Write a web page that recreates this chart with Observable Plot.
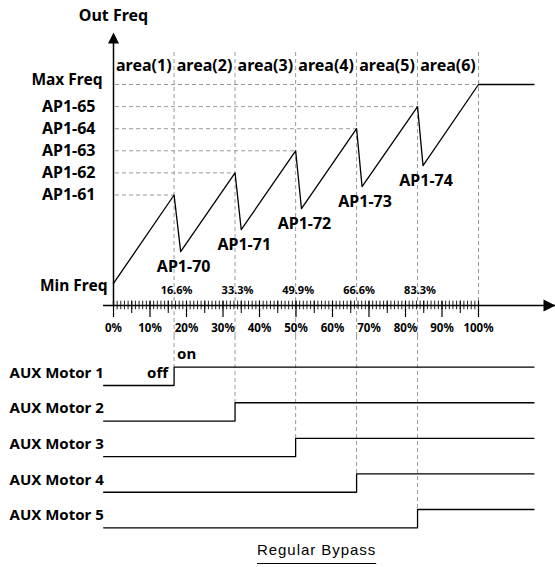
<!DOCTYPE html>
<html><head><meta charset="utf-8">
<script src="https://cdn.jsdelivr.net/npm/d3@7"></script>
<script src="https://cdn.jsdelivr.net/npm/@observablehq/plot@0.6"></script>
<style>
html,body{margin:0;padding:0;background:#fff;}
#wrap{position:relative;width:555px;height:567px;overflow:hidden;background:#fff;}
#wrap svg{display:block;background:#fff;overflow:visible;}
#caption{position:absolute;left:257px;top:541px;font-family:"Liberation Sans",Arial,sans-serif;font-size:15px;letter-spacing:0.95px;text-decoration:underline;text-underline-offset:8px;text-decoration-thickness:1px;color:#000;white-space:nowrap;line-height:17px;}
</style></head><body>
<div id="wrap"></div>
<script>
// ---- data ----
const levelLabels = ["Min Freq","AP1-61","AP1-62","AP1-63","AP1-64","AP1-65","Max Freq"];
const levelValues = [0, 4, 5, 6, 7, 8, 9];
const stagePct = [16.6, 33.3, 49.9, 66.6, 83.3];
const stageLabels = ["16.6%","33.3%","49.9%","66.6%","83.3%"];
const peakLevels = [4, 5, 6, 7, 8];
const dropPct = [18.4, 35.0, 51.5, 68.1, 84.8];
const dropLevels = [1.44, 2.43, 3.38, 4.38, 5.33];
const dropLabels = ["AP1-70","AP1-71","AP1-72","AP1-73","AP1-74"];
const areaLabels = ["area(1)","area(2)","area(3)","area(4)","area(5)","area(6)"];
const xTicks = [0,10,20,30,40,50,60,70,80,90,100];
const xTickLabels = ["0%","10%","20%","30%","40%","50%","60%","70%","80%","90%","100%"];
const motors = ["AUX Motor 1","AUX Motor 2","AUX Motor 3","AUX Motor 4","AUX Motor 5"];
const motorOnPct = [16.6, 33.3, 49.9, 66.6, 83.3];
const runStart = -2.7, runEnd = 115.2;
const maxLevel = 9, axisLevel = -1;

// ---- derived series ----
const saw = [{x: 0, y: 0}];
stagePct.forEach((p, i) => { saw.push({x: p, y: peakLevels[i]}); saw.push({x: dropPct[i], y: dropLevels[i]}); });
saw.push({x: 100, y: maxLevel}, {x: runEnd, y: maxLevel});
const guides = levelValues.slice(1).map((v, i) => ({level: v, x2: i < stagePct.length ? stagePct[i] : 100}));
const bounds = [0, ...stagePct, 100];
const areas = areaLabels.map((t, i) => ({t, x: (bounds[i] + bounds[i+1]) / 2}));
const drops = dropLabels.map((t, i) => ({t, x: dropPct[i], y: dropLevels[i]}));
const motorSeries = motors.flatMap((m, i) => [
  {motor: m, row: i, x: runStart, state: 0},
  {motor: m, row: i, x: motorOnPct[i], state: 1},
  {motor: m, row: i, x: runEnd, state: 1}
]);

// ---- layout / styles ----
const split = 336;            // height of the upper svg
const F = {fontFamily: "'Noto Sans', sans-serif", fontWeight: "bold", fill: "black"};
const dash = {stroke: "#9a9a9a", strokeWidth: 1, strokeDasharray: "4,3"};
const arrowUp = {draw(ctx) { ctx.moveTo(0, 0); ctx.lineTo(5.5, 11); ctx.lineTo(-5.5, 11); ctx.closePath(); }};
const arrowRight = {draw(ctx) { ctx.moveTo(0, 0); ctx.lineTo(-12, -6); ctx.lineTo(-12, 6); ctx.closePath(); }};
const X = {domain: [0, 100], range: [113, 478], axis: null};

const topPlot = Plot.plot({
  width: 555, height: split, marginLeft: 103, marginRight: 0, marginTop: 52, marginBottom: split - 305,
  style: {background: "white"},
  x: X,
  y: {domain: [axisLevel, maxLevel], range: [305, 84], axis: null},
  marks: [
    Plot.ruleX(stagePct, {x: d => d, insetBottom: -(split - 305), ...dash}),
    Plot.ruleX([100], {x: d => d, ...dash}),
    Plot.ruleY(guides, {y: "level", x2: "x2", insetLeft: 2, ...dash}),
    Plot.ruleY([axisLevel], {y: d => d, stroke: "black", strokeWidth: 1.5}),
    Plot.ruleX([0], {x: d => d, y1: maxLevel, y2: axisLevel, insetTop: -42, stroke: "black", strokeWidth: 1.5}),
    Plot.ruleX(d3.range(0, 101), {x: d => d, y1: axisLevel, y2: axisLevel, insetTop: -4.3, insetBottom: -4.3, stroke: "black", strokeWidth: 0.9}),
    Plot.ruleX(d3.range(5, 100, 10), {x: d => d, y1: axisLevel, y2: axisLevel, insetTop: -4.3, insetBottom: -8, stroke: "black", strokeWidth: 1}),
    Plot.ruleX(xTicks, {x: d => d, y1: axisLevel, y2: axisLevel, insetTop: -4.3, insetBottom: -12, stroke: "black", strokeWidth: 1.2}),
    Plot.dot([0], {x: d => d, frameAnchor: "top", dy: -20, symbol: arrowUp, fill: "black", stroke: "none"}),
    Plot.dot([axisLevel], {y: d => d, frameAnchor: "right", symbol: arrowRight, fill: "black", stroke: "none"}),
    Plot.line(saw, {x: "x", y: "y", stroke: "black", strokeWidth: 1.3}),
    Plot.text(["Out Freq"], {x: () => 0, frameAnchor: "top", lineAnchor: "middle", dy: -37, text: d => d, fontSize: 16, ...F}),
    Plot.text(areas, {x: "x", frameAnchor: "top", lineAnchor: "middle", dy: 13, text: "t", fontSize: 16, ...F}),
    Plot.text(levelLabels.slice(1, 6), {y: (d, i) => levelValues[i+1], frameAnchor: "left", dx: -8, textAnchor: "end", text: d => d, fontSize: 16, ...F}),
    Plot.text([levelLabels[6]], {y: () => levelValues[6], frameAnchor: "left", dx: -1, dy: -4, textAnchor: "end", text: d => d, fontSize: 15.5, ...F}),
    Plot.text([levelLabels[0]], {y: () => levelValues[0], frameAnchor: "left", dx: 4, dy: 3, textAnchor: "end", text: d => d, fontSize: 15.5, ...F}),
    Plot.text(drops, {x: "x", y: "y", dx: 3, dy: 15, text: "t", fontSize: 16, ...F}),
    Plot.text(xTicks, {x: d => d, y: axisLevel, dy: 23, text: (d, i) => xTickLabels[i], fontSize: 11.5, ...F}),
    Plot.text(stagePct, {x: d => d, y: axisLevel, dx: 2.5, dy: -15, text: (d, i) => stageLabels[i], fontSize: 11, ...F})
  ]
});

const hi = 0.515;
const rowTop = 385 - split;   // first motor's off-level, within lower svg
const bottomPlot = Plot.plot({
  width: 555, height: 540 - split, marginLeft: 103, marginRight: 0, marginTop: 0, marginBottom: 0,
  style: {background: "white"},
  x: X,
  y: {domain: [0, 4], range: [rowTop, rowTop + 142.3], axis: null},
  marks: [
    Plot.ruleX(motorOnPct, {x: d => d, y1: 0, y2: (d, i) => i - hi, insetTop: -rowTop, ...dash}),
    Plot.line(motorSeries, {x: "x", y: d => d.row - hi * d.state, z: "motor", curve: "step-after", stroke: "black", strokeWidth: 1.3}),
    Plot.text(motors, {y: (d, i) => i, frameAnchor: "left", dx: -94, dy: -12.5, textAnchor: "start", text: d => d, fontSize: 15, ...F}),
    Plot.text(["on"], {x: () => motorOnPct[0], y: () => -hi, dx: 3, dy: -12.7, textAnchor: "start", text: d => d, fontSize: 15, ...F}),
    Plot.text(["off"], {x: () => motorOnPct[0], y: () => 0, dx: -6, dy: -12, textAnchor: "end", text: d => d, fontSize: 15, ...F})
  ]
});

const wrap = document.getElementById("wrap");
wrap.appendChild(topPlot);
wrap.appendChild(bottomPlot);
const cap = document.createElement("div");
cap.id = "caption";
cap.textContent = "Regular Bypass";
wrap.appendChild(cap);
</script>
</body></html>
